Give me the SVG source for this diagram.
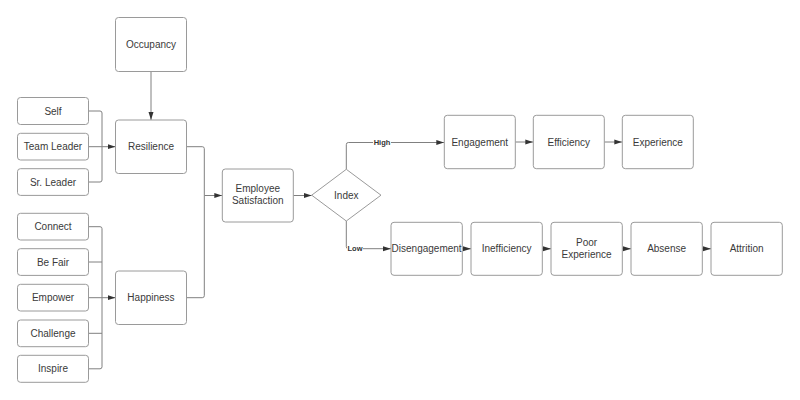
<svg xmlns="http://www.w3.org/2000/svg" width="800" height="400" viewBox="0 0 800 400">
<defs>
<style>
.box{fill:#fff;stroke:#9a9a9a;stroke-width:1}
.t{font-family:"Liberation Sans",Arial,sans-serif;font-size:10px;fill:#3a3a3a;text-anchor:middle;dominant-baseline:central}
.lbl{font-family:"Liberation Sans",Arial,sans-serif;font-size:7.5px;font-weight:bold;fill:#333;text-anchor:middle;dominant-baseline:central}
.c{fill:none;stroke:#808080;stroke-width:1}
</style>
<marker id="ah" viewBox="0 0 8 6" refX="8" refY="3" markerWidth="8" markerHeight="6" markerUnits="userSpaceOnUse" orient="auto">
<path d="M0,0.5 L8,3 L0,5.5 Z" fill="#333"/>
</marker>
</defs>
<rect width="800" height="400" fill="#fff"/>
<g id="connectors">
<path class="c" d="M151,71.5 V120" marker-end="url(#ah)"/>
<path class="c" d="M88.5,111 H100 Q102,111 102,113 V146.7"/>
<path class="c" d="M88.5,182 H100 Q102,182 102,180 V146.7"/>
<path class="c" d="M88.5,146.7 H115.5" marker-end="url(#ah)"/>
<path class="c" d="M88.5,226.7 H100 Q102,226.7 102,228.7 V297.7"/>
<path class="c" d="M88.5,262 H102"/>
<path class="c" d="M88.5,333.3 H102"/>
<path class="c" d="M88.5,368.8 H100 Q102,368.8 102,366.8 V297.7"/>
<path class="c" d="M88.5,297.7 H115.5" marker-end="url(#ah)"/>
<path class="c" d="M186.5,146.7 H202.3 Q204.3,146.7 204.3,148.7 V195.5"/>
<path class="c" d="M186.5,297.7 H202.3 Q204.3,297.7 204.3,295.7 V195.5"/>
<path class="c" d="M204.3,195.5 H222.3" marker-end="url(#ah)"/>
<path class="c" d="M293.3,195.5 H311.7" marker-end="url(#ah)"/>
<path class="c" d="M346.3,169.3 V144.7 Q346.3,142.5 348.3,142.5 H444.3" marker-end="url(#ah)"/>
<path class="c" d="M346.3,221 V246.7 Q346.3,248.7 348.3,248.7 H391" marker-end="url(#ah)"/>
<path class="c" d="M515.3,142 H533.3" marker-end="url(#ah)"/>
<path class="c" d="M604.3,142 H622.3" marker-end="url(#ah)"/>
<path class="c" d="M462.3,248.8 H471" marker-end="url(#ah)"/>
<path class="c" d="M542.3,248.8 H551" marker-end="url(#ah)"/>
<path class="c" d="M622.3,248.8 H631" marker-end="url(#ah)"/>
<path class="c" d="M702.3,248.8 H711" marker-end="url(#ah)"/>
<rect x="373" y="137.5" width="18" height="9" fill="#fff"/>
<text class="lbl" x="382" y="142">High</text>
<rect x="347" y="244" width="16" height="9" fill="#fff"/>
<text class="lbl" x="355" y="248.7">Low</text>
</g>
<g id="occupancy"><rect class="box" x="115.5" y="17.5" width="71" height="54" rx="3"/><text class="t" x="151" y="44.5">Occupancy</text></g>
<g id="resilience"><rect class="box" x="115.5" y="120" width="71" height="53.5" rx="3"/><text class="t" x="151" y="146.7">Resilience</text></g>
<g id="happiness"><rect class="box" x="115.5" y="271" width="71" height="53.5" rx="3"/><text class="t" x="151" y="297.7">Happiness</text></g>
<g id="self"><rect class="box" x="17.5" y="97.5" width="71" height="27" rx="3"/><text class="t" x="53" y="111">Self</text></g>
<g id="team-leader"><rect class="box" x="17.5" y="133.3" width="71" height="26.7" rx="3"/><text class="t" x="53" y="146.7">Team Leader</text></g>
<g id="sr-leader"><rect class="box" x="17.5" y="168.7" width="71" height="26.7" rx="3"/><text class="t" x="53" y="182">Sr. Leader</text></g>
<g id="connect"><rect class="box" x="17.5" y="213.3" width="71" height="26.7" rx="3"/><text class="t" x="53" y="226.7">Connect</text></g>
<g id="be-fair"><rect class="box" x="17.5" y="248.7" width="71" height="26.7" rx="3"/><text class="t" x="53" y="262">Be Fair</text></g>
<g id="empower"><rect class="box" x="17.5" y="284.3" width="71" height="26.7" rx="3"/><text class="t" x="53" y="297.7">Empower</text></g>
<g id="challenge"><rect class="box" x="17.5" y="320" width="71" height="26.7" rx="3"/><text class="t" x="53" y="333.3">Challenge</text></g>
<g id="inspire"><rect class="box" x="17.5" y="355.3" width="71" height="27" rx="3"/><text class="t" x="53" y="368.8">Inspire</text></g>
<g id="employee-satisfaction"><rect class="box" x="222.3" y="169" width="71" height="53" rx="3"/><text class="t" x="257.8" y="188.5">Employee</text><text class="t" x="257.8" y="200.5">Satisfaction</text></g>
<g id="index"><path class="box" d="M346.3,169.3 L381,195.2 L346.3,221 L311.7,195.2 Z"/><text class="t" x="346.3" y="195.2">Index</text></g>
<g id="engagement"><rect class="box" x="444.3" y="115.3" width="71" height="53.4" rx="3"/><text class="t" x="479.8" y="142">Engagement</text></g>
<g id="efficiency"><rect class="box" x="533.3" y="115.3" width="71" height="53.4" rx="3"/><text class="t" x="568.8" y="142">Efficiency</text></g>
<g id="experience"><rect class="box" x="622.3" y="115.3" width="71" height="53.4" rx="3"/><text class="t" x="657.8" y="142">Experience</text></g>
<g id="disengagement"><rect class="box" x="391" y="222.3" width="71.3" height="53" rx="3"/><text class="t" x="426.6" y="248.8">Disengagement</text></g>
<g id="inefficiency"><rect class="box" x="471" y="222.3" width="71.3" height="53" rx="3"/><text class="t" x="506.6" y="248.8">Inefficiency</text></g>
<g id="poor-experience"><rect class="box" x="551" y="222.3" width="71.3" height="53" rx="3"/><text class="t" x="586.6" y="242.5">Poor</text><text class="t" x="586.6" y="254">Experience</text></g>
<g id="absense"><rect class="box" x="631" y="222.3" width="71.3" height="53" rx="3"/><text class="t" x="666.6" y="248.8">Absense</text></g>
<g id="attrition"><rect class="box" x="711" y="222.3" width="71.3" height="53" rx="3"/><text class="t" x="746.6" y="248.8">Attrition</text></g>
</svg>
